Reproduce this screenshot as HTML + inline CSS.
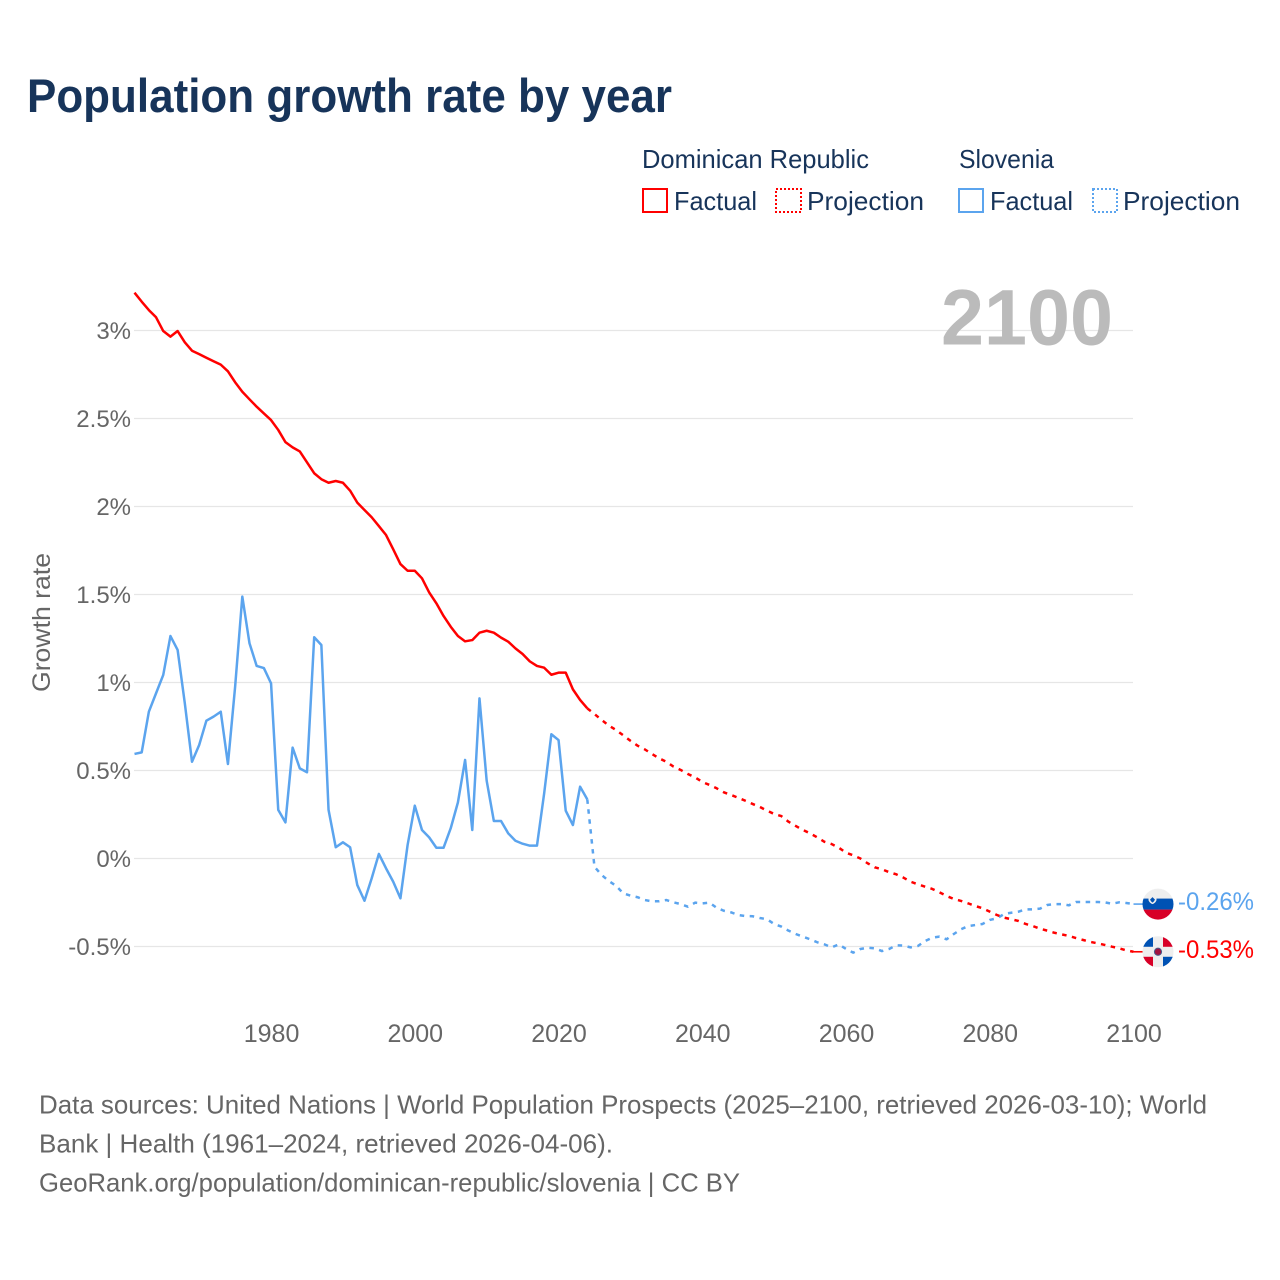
<!DOCTYPE html>
<html lang="en">
<head>
<meta charset="utf-8">
<title>Population growth rate by year</title>
<style>
html,body{margin:0;padding:0;background:#fff;}
svg{display:block;font-family:"Liberation Sans",sans-serif;}
</style>
</head>
<body>
<svg id="chart" xmlns="http://www.w3.org/2000/svg" width="1280" height="1280" viewBox="0 0 1280 1280">
  <defs>
    <clipPath id="flag-clip-si"><circle cx="0" cy="0" r="15.5"/></clipPath>
  </defs>
  <rect x="0" y="0" width="1280" height="1280" fill="#ffffff"/>
  <text x="27" y="112" font-size="47" font-weight="700" fill="#17345a" textLength="645" lengthAdjust="spacingAndGlyphs">Population growth rate by year</text>

  <g font-size="26" fill="#17345a">
    <text x="642" y="168" textLength="227" lengthAdjust="spacingAndGlyphs">Dominican Republic</text>
    <text x="959" y="168" textLength="95" lengthAdjust="spacingAndGlyphs">Slovenia</text>
    <rect x="643" y="189" width="24" height="23" fill="none" stroke="#ff0000" stroke-width="2"/>
    <text x="674" y="210" textLength="83" lengthAdjust="spacingAndGlyphs">Factual</text>
    <rect x="776" y="189" width="25" height="23" fill="none" stroke="#ff0000" stroke-width="2" stroke-dasharray="2,2"/>
    <text x="807" y="210" textLength="117" lengthAdjust="spacingAndGlyphs">Projection</text>
    <rect x="959" y="189" width="24" height="23" fill="none" stroke="#5ba4ee" stroke-width="2"/>
    <text x="990" y="210" textLength="83" lengthAdjust="spacingAndGlyphs">Factual</text>
    <rect x="1093" y="189" width="24" height="23" fill="none" stroke="#5ba4ee" stroke-width="2" stroke-dasharray="2,2"/>
    <text x="1123" y="210" textLength="117" lengthAdjust="spacingAndGlyphs">Projection</text>
  </g>

  <g id="grid"></g>
  <g id="y-ticks" font-size="24" fill="#666666" text-anchor="end"></g>
  <g id="x-ticks" font-size="25" fill="#666666" text-anchor="middle"></g>
  <text transform="translate(50,622.5) rotate(-90)" font-size="25" fill="#666666" text-anchor="middle" textLength="139" lengthAdjust="spacingAndGlyphs">Growth rate</text>

  <text x="941" y="344.5" font-size="79" font-weight="700" fill="#bbbbbb" textLength="172" lengthAdjust="spacingAndGlyphs">2100</text>

  <g id="series"></g>
  <g id="end-markers"></g>

  <g font-size="26" fill="#666666">
    <text x="39" y="1113.5" textLength="1168" lengthAdjust="spacingAndGlyphs">Data sources: United Nations | World Population Prospects (2025–2100, retrieved 2026-03-10); World</text>
    <text x="39" y="1152.5" textLength="574" lengthAdjust="spacingAndGlyphs">Bank | Health (1961–2024, retrieved 2026-04-06).</text>
    <text x="39" y="1191.5" textLength="701" lengthAdjust="spacingAndGlyphs">GeoRank.org/population/dominican-republic/slovenia | CC BY</text>
  </g>
</svg>
<script>
const yTickValues = [3, 2.5, 2, 1.5, 1, 0.5, 0, -0.5];
const yTickLabels = ["3%", "2.5%", "2%", "1.5%", "1%", "0.5%", "0%", "-0.5%"];
const xTickValues = [1980, 2000, 2020, 2040, 2060, 2080, 2100];
const xTickLabels = ["1980", "2000", "2020", "2040", "2060", "2080", "2100"];

const factualYears = [1961,1962,1963,1964,1965,1966,1967,1968,1969,1970,1971,1972,1973,1974,1975,1976,1977,1978,1979,1980,1981,1982,1983,1984,1985,1986,1987,1988,1989,1990,1991,1992,1993,1994,1995,1996,1997,1998,1999,2000,2001,2002,2003,2004,2005,2006,2007,2008,2009,2010,2011,2012,2013,2014,2015,2016,2017,2018,2019,2020,2021,2022,2023,2024];
const projectionYears = [2024,2025,2026,2027,2028,2029,2030,2031,2032,2033,2034,2035,2036,2037,2038,2039,2040,2041,2042,2043,2044,2045,2046,2047,2048,2049,2050,2051,2052,2053,2054,2055,2056,2057,2058,2059,2060,2061,2062,2063,2064,2065,2066,2067,2068,2069,2070,2071,2072,2073,2074,2075,2076,2077,2078,2079,2080,2081,2082,2083,2084,2085,2086,2087,2088,2089,2090,2091,2092,2093,2094,2095,2096,2097,2098,2099,2100];

const dominicanFactual = [3.215,3.164,3.116,3.075,2.997,2.965,2.997,2.933,2.885,2.866,2.845,2.825,2.806,2.768,2.706,2.652,2.609,2.567,2.529,2.491,2.435,2.366,2.336,2.313,2.251,2.189,2.155,2.135,2.145,2.135,2.090,2.022,1.980,1.939,1.889,1.838,1.757,1.673,1.635,1.635,1.592,1.512,1.450,1.378,1.317,1.264,1.234,1.241,1.283,1.294,1.283,1.255,1.232,1.194,1.162,1.120,1.094,1.084,1.044,1.056,1.056,0.961,0.901,0.853];
const dominicanProjection = [0.853,0.821,0.787,0.755,0.730,0.700,0.669,0.641,0.620,0.594,0.569,0.550,0.522,0.503,0.480,0.461,0.435,0.418,0.399,0.376,0.361,0.345,0.328,0.310,0.293,0.272,0.253,0.241,0.209,0.185,0.162,0.143,0.120,0.095,0.082,0.061,0.033,0.018,0.000,-0.027,-0.050,-0.061,-0.078,-0.090,-0.109,-0.132,-0.147,-0.160,-0.173,-0.192,-0.213,-0.230,-0.241,-0.255,-0.270,-0.283,-0.302,-0.321,-0.336,-0.345,-0.355,-0.372,-0.384,-0.399,-0.410,-0.422,-0.431,-0.440,-0.452,-0.463,-0.474,-0.482,-0.491,-0.501,-0.510,-0.522,-0.530];
const sloveniaFactual = [0.594,0.603,0.834,0.939,1.043,1.264,1.185,0.882,0.550,0.645,0.783,0.806,0.834,0.537,0.976,1.488,1.223,1.094,1.082,0.995,0.276,0.205,0.630,0.512,0.490,1.257,1.213,0.276,0.064,0.092,0.064,-0.151,-0.240,-0.113,0.026,-0.056,-0.132,-0.226,0.077,0.300,0.162,0.120,0.061,0.061,0.172,0.319,0.560,0.162,0.910,0.442,0.213,0.213,0.143,0.101,0.084,0.073,0.073,0.370,0.706,0.673,0.272,0.190,0.408,0.336];
const sloveniaProjection = [0.336,-0.047,-0.094,-0.128,-0.155,-0.198,-0.211,-0.220,-0.236,-0.243,-0.243,-0.236,-0.249,-0.259,-0.274,-0.251,-0.255,-0.251,-0.280,-0.297,-0.306,-0.321,-0.327,-0.328,-0.338,-0.345,-0.372,-0.387,-0.410,-0.429,-0.444,-0.459,-0.476,-0.488,-0.505,-0.488,-0.514,-0.535,-0.514,-0.507,-0.510,-0.526,-0.514,-0.493,-0.495,-0.505,-0.497,-0.469,-0.450,-0.444,-0.459,-0.429,-0.402,-0.384,-0.378,-0.372,-0.349,-0.340,-0.315,-0.308,-0.302,-0.289,-0.289,-0.285,-0.264,-0.259,-0.259,-0.266,-0.247,-0.247,-0.247,-0.247,-0.249,-0.257,-0.249,-0.253,-0.259];

const NS = 'http://www.w3.org/2000/svg';
const RED = '#ff0000';
const BLUE = '#5ba4ee';

function xScale(year) { return 134.5 + (year - 1961) * (1133.5 - 134.5) / 139; }
function yScale(value) { return 858.5 - value * 176; }
function make(tag, attrs) {
  const el = document.createElementNS(NS, tag);
  for (const k in attrs) el.setAttribute(k, attrs[k]);
  return el;
}
function linePath(years, values) {
  return years.map((yr, i) => (i ? 'L' : 'M') + xScale(yr).toFixed(2) + ' ' + yScale(values[i]).toFixed(2)).join(' ');
}

const gridG = document.getElementById('grid');
const yTicksG = document.getElementById('y-ticks');
yTickValues.forEach((v, i) => {
  const line = make('line', { x1: 134, x2: 1133, y1: yScale(v), y2: yScale(v), stroke: '#e6e6e6', 'stroke-width': 1.3 });
  
  
  gridG.appendChild(line);
  const label = make('text', { x: 131, y: yScale(v) + 8.5 });
  
  
  label.textContent = yTickLabels[i];
  yTicksG.appendChild(label);
});

const xTicksG = document.getElementById('x-ticks');
xTickValues.forEach((v, i) => {
  const label = make('text', { x: xScale(v) + 0.5, y: 1042 });
  
  
  label.textContent = xTickLabels[i];
  xTicksG.appendChild(label);
});

const seriesG = document.getElementById('series');
function addLine(name, years, values, color, dashed) {
  const p = make('path', { d: linePath(years, values), fill: 'none', stroke: color, 'stroke-width': 2.5, 'stroke-linejoin': 'round' });
  if (dashed) p.setAttribute('stroke-dasharray', '4.5,5.5');
  
  
  seriesG.appendChild(p);
}
addLine('slovenia-projection-line', projectionYears, sloveniaProjection, BLUE, true);
addLine('slovenia-factual-line', factualYears, sloveniaFactual, BLUE, false);
addLine('dominican-projection-line', projectionYears, dominicanProjection, RED, true);
addLine('dominican-factual-line', factualYears, dominicanFactual, RED, false);

const markers = document.getElementById('end-markers');
const lastYear = projectionYears[projectionYears.length - 1];
function addEnd(name, value, color, drawFlag) {
  const y = yScale(value);
  const conn = make('line', { x1: xScale(lastYear), x2: 1146, y1: y, y2: y, stroke: color, 'stroke-width': 1.6 });
  
  
  markers.appendChild(conn);
  const flag = make('g', { transform: 'translate(1158,' + y.toFixed(2) + ')', 'clip-path': 'url(#flag-clip-si)' });
  
  
  drawFlag(flag);
  markers.appendChild(flag);
  const label = make('text', { x: 1178, y: y + 6, 'font-size': 25, fill: color, textLength: 76, lengthAdjust: 'spacingAndGlyphs' });
  
  
  label.textContent = value.toFixed(2) + '%';
  markers.appendChild(label);
}
function drawSlovenia(g) {
  g.appendChild(make('rect', { x: -16, y: -16, width: 32, height: 11, fill: '#eeeeee' }));
  g.appendChild(make('rect', { x: -16, y: -5.5, width: 32, height: 11, fill: '#0052b4' }));
  g.appendChild(make('rect', { x: -16, y: 5.5, width: 32, height: 11, fill: '#d80027' }));
  g.appendChild(make('path', { d: 'M-9.5 -9 h8 v5 q-1 3 -4 4 q-3 -1 -4 -4 z', fill: '#eeeeee' }));
  g.appendChild(make('path', { d: 'M-8 -4.5 l2.5 -2.5 l2.5 2.5 q-1 2 -2.5 3 q-1.5 -1 -2.5 -3 z', fill: '#0052b4' }));
}
function drawDominican(g) {
  g.appendChild(make('rect', { x: -16, y: -16, width: 32, height: 32, fill: '#eeeeee' }));
  g.appendChild(make('rect', { x: -16, y: -16, width: 11, height: 11, fill: '#0052b4' }));
  g.appendChild(make('rect', { x: 5, y: -16, width: 11, height: 11, fill: '#d80027' }));
  g.appendChild(make('rect', { x: -16, y: 5, width: 11, height: 11, fill: '#d80027' }));
  g.appendChild(make('rect', { x: 5, y: 5, width: 11, height: 11, fill: '#0052b4' }));
  g.appendChild(make('circle', { cx: 0, cy: 0, r: 3.6, fill: '#a2123f' }));
  g.appendChild(make('circle', { cx: 0, cy: 0, r: 3.6, fill: 'none', stroke: '#4a5a8a', 'stroke-width': 1 }));
}
addEnd('slovenia', sloveniaProjection[sloveniaProjection.length - 1], BLUE, drawSlovenia);
addEnd('dominican-republic', dominicanProjection[dominicanProjection.length - 1], RED, drawDominican);
</script>
</body>
</html>
